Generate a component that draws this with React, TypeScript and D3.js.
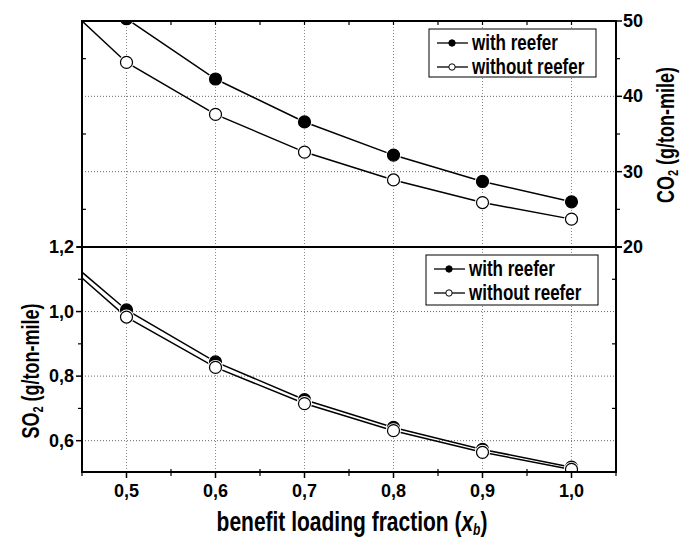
import React from "react";
import * as d3 from "d3";

// Benefit loading fraction at the marked points
const xValues = [0.5, 0.6, 0.7, 0.8, 0.9, 1.0];
// Fitted curves start at the left edge of the axis
const xStart = 0.45;

// CO2 emissions (g/ton-mile)
const co2With = [50.3, 42.3, 36.6, 32.2, 28.7, 26.0];
const co2Without = [44.5, 37.6, 32.6, 28.9, 25.9, 23.7];
const co2WithStart = 55.9;
const co2WithoutStart = 50.0;

// SO2 emissions (g/ton-mile)
const so2With = [1.005, 0.844, 0.727, 0.641, 0.573, 0.518];
const so2Without = [0.983, 0.827, 0.715, 0.631, 0.564, 0.511];
const so2WithStart = 1.122;
const so2WithoutStart = 1.104;

const xTicks = [0.5, 0.6, 0.7, 0.8, 0.9, 1.0];
const xMinorTicks = [0.45, 0.55, 0.65, 0.75, 0.85, 0.95, 1.05];
const co2Ticks = [20, 30, 40, 50];
const co2MinorTicks = [25, 35, 45];
const so2Ticks = [0.6, 0.8, 1.0, 1.2];
const so2MinorTicks = [0.7, 0.9, 1.1];

const seriesNames = ["with reefer", "without reefer"];

const W = 683;
const H = 538;
const left = 82;
const right = 616;
const top = 21;
const mid = 247;
const bottom = 472;

const FONT = "'Liberation Sans', Arial, sans-serif";
// tall, condensed look for titles and legend entries
const STRETCH = 1.3;

const fmt = (v: number, d: number) => v.toFixed(d).replace(".", ",");

export default function App() {
  const x = d3.scaleLinear().domain([0.45, 1.05]).range([left, right]);
  const yCO2 = d3.scaleLinear().domain([20, 50]).range([mid, top]);
  const ySO2 = d3.scaleLinear().domain([0.503, 1.2]).range([bottom, mid]);

  const lineCO2 = d3
    .line<[number, number]>()
    .x((d) => x(d[0]))
    .y((d) => yCO2(d[1]));
  const lineSO2 = d3
    .line<[number, number]>()
    .x((d) => x(d[0]))
    .y((d) => ySO2(d[1]));

  const pairs = (start: number, vals: number[]): [number, number][] => [
    [xStart, start],
    ...xValues.map((xv, i) => [xv, vals[i]] as [number, number]),
  ];

  const r = 6;
  const markers = (
    vals: number[],
    y: (v: number) => number,
    filled: boolean,
    key: string
  ) =>
    xValues.map((xv, i) => (
      <g key={key + i}>
        <circle cx={x(xv)} cy={y(vals[i])} r={r + 1.5} fill="#fff" />
        <circle
          cx={x(xv)}
          cy={y(vals[i])}
          r={r}
          fill={filled ? "#000" : "#fff"}
          stroke="#000"
          strokeWidth={1.2}
        />
      </g>
    ));

  const legend = (lx: number, ly: number, w: number, h: number, gap: number, key: string) => (
    <g key={key}>
      <rect x={lx} y={ly} width={w} height={h} fill="#fff" stroke="#000" strokeWidth={1} />
      {seriesNames.map((name, i) => {
        const cy = ly + 14 + i * gap;
        return (
          <g key={name}>
            <line x1={lx + 8} x2={lx + 39} y1={cy} y2={cy} stroke="#000" strokeWidth={1.3} />
            <circle
              cx={lx + 23}
              cy={cy}
              r={3.2}
              fill={i === 0 ? "#000" : "#fff"}
              stroke="#000"
              strokeWidth={1}
            />
            <text
              transform={`translate(${lx + 43},${cy + 7}) scale(1,${STRETCH})`}
              fontSize={17}
              fontWeight="bold"
              fontFamily={FONT}
            >
              {name}
            </text>
          </g>
        );
      })}
    </g>
  );

  return (
    <div style={{ position: "absolute", left: 0, top: 0 }}>
      <svg width={W} height={H} style={{ display: "block" }}>
        <rect width={W} height={H} fill="#fff" />
        <defs>
          <clipPath id="clipTop">
            <rect x={left} y={top} width={right - left} height={mid - top} />
          </clipPath>
          <clipPath id="clipBottom">
            <rect x={left} y={mid} width={right - left} height={bottom - mid} />
          </clipPath>
        </defs>

        {/* grid */}
        {xTicks.map((t) => (
          <line
            key={"gx" + t}
            x1={x(t)}
            x2={x(t)}
            y1={top}
            y2={bottom}
            stroke="#888"
            strokeWidth={1}
            strokeDasharray="1,2"
          />
        ))}
        {[30, 40].map((t) => (
          <line
            key={"gc" + t}
            x1={left}
            x2={right}
            y1={yCO2(t)}
            y2={yCO2(t)}
            stroke="#666"
            strokeWidth={1}
            strokeDasharray="1,2"
          />
        ))}
        {[0.6, 0.8, 1.0].map((t) => (
          <line
            key={"gs" + t}
            x1={left}
            x2={right}
            y1={ySO2(t)}
            y2={ySO2(t)}
            stroke="#666"
            strokeWidth={1}
            strokeDasharray="1,2"
          />
        ))}

        {/* CO2 panel */}
        <g clipPath="url(#clipTop)">
          <path d={lineCO2(pairs(co2WithStart, co2With)) || ""} fill="none" stroke="#000" strokeWidth={1.5} />
          <path d={lineCO2(pairs(co2WithoutStart, co2Without)) || ""} fill="none" stroke="#000" strokeWidth={1.5} />
          {markers(co2With, yCO2, true, "cw")}
          {markers(co2Without, yCO2, false, "co")}
        </g>

        {/* SO2 panel */}
        <g clipPath="url(#clipBottom)">
          <path d={lineSO2(pairs(so2WithStart, so2With)) || ""} fill="none" stroke="#000" strokeWidth={1.5} />
          <path d={lineSO2(pairs(so2WithoutStart, so2Without)) || ""} fill="none" stroke="#000" strokeWidth={1.5} />
          {markers(so2With, ySO2, true, "sw")}
          {markers(so2Without, ySO2, false, "so")}
        </g>

        {/* frame */}
        <rect x={left} y={top} width={right - left} height={bottom - top} fill="none" stroke="#000" strokeWidth={2} />
        <line x1={left - 5} x2={right + 6} y1={mid} y2={mid} stroke="#000" strokeWidth={2} />

        {/* top border ticks */}
        {xMinorTicks.concat(xTicks).map((t) => (
          <line key={"tt" + t} x1={x(t)} x2={x(t)} y1={top} y2={top + 4} stroke="#000" strokeWidth={1.2} />
        ))}

        {/* bottom axis */}
        {xTicks.map((t) => (
          <g key={"bx" + t}>
            <line x1={x(t)} x2={x(t)} y1={bottom} y2={bottom + 6} stroke="#000" strokeWidth={1.5} />
            <text
              x={x(t)}
              y={497}
              textAnchor="middle"
              fontSize={18}
              fontWeight="bold"
              fontFamily={FONT}
            >
              {fmt(t, 1)}
            </text>
          </g>
        ))}
        {xMinorTicks.map((t) => (
          <line key={"bm" + t} x1={x(t)} x2={x(t)} y1={bottom - 3} y2={bottom + 4} stroke="#000" strokeWidth={1.2} />
        ))}

        {/* CO2 axis (right, upper panel) */}
        {co2Ticks.map((t) => (
          <g key={"cy" + t}>
            <line x1={right} x2={right + 6} y1={yCO2(t)} y2={yCO2(t)} stroke="#000" strokeWidth={1.5} />
            <text
              x={right + 7}
              y={yCO2(t) + 6}
              fontSize={18}
              fontWeight="bold"
              fontFamily={FONT}
            >
              {t}
            </text>
          </g>
        ))}
        {co2MinorTicks.map((t) => (
          <g key={"cm" + t}>
            <line x1={right} x2={right + 4} y1={yCO2(t)} y2={yCO2(t)} stroke="#000" strokeWidth={1.2} />
            <line x1={left} x2={left + 4} y1={yCO2(t)} y2={yCO2(t)} stroke="#000" strokeWidth={1.2} />
          </g>
        ))}

        {/* SO2 axis (left, lower panel) */}
        {so2Ticks.map((t) => (
          <g key={"sy" + t}>
            <line x1={left - 6} x2={left} y1={ySO2(t)} y2={ySO2(t)} stroke="#000" strokeWidth={1.5} />
            <text
              x={left - 8}
              y={ySO2(t) + 6}
              textAnchor="end"
              fontSize={18}
              fontWeight="bold"
              fontFamily={FONT}
            >
              {fmt(t, 1)}
            </text>
          </g>
        ))}
        {so2MinorTicks.map((t) => (
          <g key={"sm" + t}>
            <line x1={left - 4} x2={left} y1={ySO2(t)} y2={ySO2(t)} stroke="#000" strokeWidth={1.2} />
            <line x1={right - 4} x2={right} y1={ySO2(t)} y2={ySO2(t)} stroke="#000" strokeWidth={1.2} />
          </g>
        ))}

        {legend(429, 29, 167, 48, 24, "lt")}
        {legend(426, 255, 172, 50, 24, "lb")}

        {/* axis titles */}
        <text
          transform={`translate(39,371) rotate(-90) scale(1,${STRETCH})`}
          textAnchor="middle"
          fontSize={18}
          fontWeight="bold"
          fontFamily={FONT}
        >
          SO<tspan fontSize={11} dy={3}>2</tspan>
          <tspan dy={-3}> (g/ton-mile)</tspan>
        </text>
        <text
          transform={`translate(674,135) rotate(-90) scale(1,${STRETCH})`}
          textAnchor="middle"
          fontSize={18}
          fontWeight="bold"
          fontFamily={FONT}
        >
          CO<tspan fontSize={11} dy={3}>2</tspan>
          <tspan dy={-3}> (g/ton-mile)</tspan>
        </text>
        <text
          transform={`translate(352,531) scale(1,${STRETCH})`}
          textAnchor="middle"
          fontSize={21}
          fontWeight="bold"
          fontFamily={FONT}
        >
          benefit loading fraction (<tspan fontStyle="italic">x</tspan>
          <tspan fontStyle="italic" fontSize={12} dy={3}>b</tspan>
          <tspan dy={-3}>)</tspan>
        </text>
      </svg>
    </div>
  );
}
